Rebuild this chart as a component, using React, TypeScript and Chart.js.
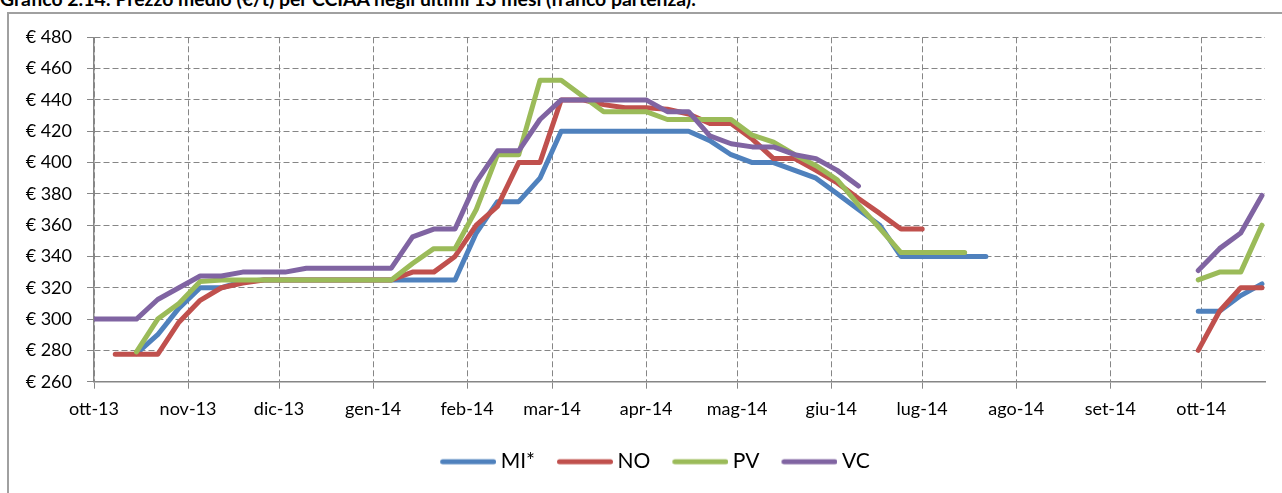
import React, { useEffect, useRef } from 'react';
import { Chart, registerables } from 'chart.js';

Chart.register(...registerables);

// ---- DATA ----
const titleText = 'Grafico 2.14: Prezzo medio (€/t) per CCIAA negli ultimi 13 mesi (franco partenza).';

const weekDates = [
  '2013-10-01', '2013-10-08', '2013-10-15', '2013-10-22', '2013-10-29',
  '2013-11-05', '2013-11-12', '2013-11-19', '2013-11-26',
  '2013-12-03', '2013-12-10', '2013-12-17', '2013-12-24', '2013-12-31',
  '2014-01-07', '2014-01-14', '2014-01-21', '2014-01-28',
  '2014-02-04', '2014-02-11', '2014-02-18', '2014-02-25',
  '2014-03-04', '2014-03-11', '2014-03-18', '2014-03-25',
  '2014-04-01', '2014-04-08', '2014-04-15', '2014-04-22', '2014-04-29',
  '2014-05-06', '2014-05-13', '2014-05-20', '2014-05-27',
  '2014-06-03', '2014-06-10', '2014-06-17', '2014-06-24',
  '2014-07-01', '2014-07-08', '2014-07-15', '2014-07-22', '2014-07-29',
  '2014-08-05', '2014-08-12', '2014-08-19', '2014-08-26',
  '2014-09-02', '2014-09-09', '2014-09-16', '2014-09-23', '2014-09-30',
  '2014-10-07', '2014-10-14', '2014-10-21',
];

const monthTickDates = [
  '2013-10-01', '2013-11-01', '2013-12-01', '2014-01-01', '2014-02-01', '2014-03-01',
  '2014-04-01', '2014-05-01', '2014-06-01', '2014-07-01', '2014-08-01', '2014-09-01', '2014-10-01',
];
const monthLabels = [
  'ott-13', 'nov-13', 'dic-13', 'gen-14', 'feb-14', 'mar-14',
  'apr-14', 'mag-14', 'giu-14', 'lug-14', 'ago-14', 'set-14', 'ott-14',
];
const xAxisStart = '2013-10-01';
const xAxisEnd = '2014-10-22';

const yTickValues = [260, 280, 300, 320, 340, 360, 380, 400, 420, 440, 460, 480];

const seriesNames = ['MI*', 'NO', 'PV', 'VC'];
const seriesColors = ['#4F81BD', '#C0504D', '#9BBB59', '#8064A2'];

const n = null;
const miValues = [
  n, n, 278, 290, 307,
  320, 320, 324, 325,
  325, 325, 325, 325, 325,
  325, 325, 325, 325,
  355, 375, 375, 390,
  420, 420, 420, 420,
  420, 420, 420, 414, 405,
  400, 400, 395, 390,
  380, 370, 360, 340,
  340, 340, 340, 340, n,
  n, n, n, n,
  n, n, n, n, 305,
  305, 315, 322.5,
];
const noValues = [
  n, 277.5, 277.5, 277.5, 298,
  312, 320, 323, 325,
  325, 325, 325, 325, 325,
  325, 330, 330, 340,
  360, 372, 400, 400,
  440, 440, 437, 435,
  435, 434, 431, 425, 425,
  415, 402.5, 402.5, 395,
  387, 377, 367.5, 357.5,
  357.5, n, n, n, n,
  n, n, n, n,
  n, n, n, n, 280,
  305, 320, 320,
];
const pvValues = [
  n, n, 279, 300, 310,
  324, 325, 325, 325,
  325, 325, 325, 325, 325,
  325, 335.5, 345, 345,
  370, 405, 405, 452.5,
  452.5, 442.5, 432.5, 432.5,
  432.5, 427.5, 427.5, 427.5, 427.5,
  417.5, 413, 405, 398,
  389, 373, 358, 342.5,
  342.5, 342.5, 342.5, n, n,
  n, n, n, n,
  n, n, n, n, 325,
  330, 330, 360,
];
const vcValues = [
  300, 300, 300, 312.5, 320,
  327.5, 327.5, 330, 330,
  330, 332.5, 332.5, 332.5, 332.5,
  332.5, 352.5, 357.5, 357.5,
  387.5, 407.5, 407.5, 427.5,
  440, 440, 440, 440,
  440, 432.5, 432.5, 417, 412,
  410, 410, 405, 402.5,
  395, 385, n, n,
  n, n, n, n, n,
  n, n, n, n,
  n, n, n, n, 331,
  345, 355, 379,
];
const seriesValues = [miValues, noValues, pvValues, vcValues];

// ---- helpers ----
const dayOf = (s: string) => {
  const [y, m, d] = s.split('-').map(Number);
  const [y0, m0, d0] = xAxisStart.split('-').map(Number);
  return Math.round((Date.UTC(y, m - 1, d) - Date.UTC(y0, m0 - 1, d0)) / 86400000);
};

const LINE_W = 5;

function makeLegendLine(color: string) {
  const c = document.createElement('canvas');
  c.width = 62;
  c.height = 8;
  const g = c.getContext('2d')!;
  g.strokeStyle = color;
  g.lineWidth = LINE_W;
  g.lineCap = 'round';
  g.beginPath();
  g.moveTo(8.5, 4);
  g.lineTo(59.5, 4);
  g.stroke();
  return c;
}

const FONT = 'Lato, "Open Sans", sans-serif';

// shifts the legend box so it is centred like the original chart's legend
const legendShift = {
  id: 'legendShift',
  afterLayout(chart: any) {
    const lg = chart.legend;
    if (lg) {
      lg.left = 45;
    }
  },
};

export default function App() {
  const canvasRef = useRef<HTMLCanvasElement | null>(null);

  useEffect(() => {
    const canvas = canvasRef.current;
    if (!canvas) return;
    const monthDays = monthTickDates.map(dayOf);
    const xs = weekDates.map(dayOf);

    const datasets = seriesNames.map((name, si) => ({
      label: name,
      data: xs.map((x, i) => ({ x, y: seriesValues[si][i] as number | null })),
      borderColor: seriesColors[si],
      backgroundColor: seriesColors[si],
      borderWidth: LINE_W,
      borderCapStyle: 'round' as const,
      borderJoinStyle: 'round' as const,
      pointRadius: 0,
      pointHoverRadius: 0,
      pointStyle: makeLegendLine(seriesColors[si]) as any,
      tension: 0,
      spanGaps: false,
      fill: false,
      order: seriesNames.length - si,
    }));

    const gridColor = '#868686';

    const chart = new Chart(canvas, {
      type: 'line',
      data: { datasets: datasets as any },
      plugins: [legendShift],
      options: {
        animation: false,
        responsive: false,
        maintainAspectRatio: false,
        events: [],
        parsing: false as any,
        layout: { padding: { left: 0, right: 17, top: 37.3, bottom: 10.8 } },
        scales: {
          x: {
            type: 'linear',
            min: dayOf(xAxisStart),
            max: dayOf(xAxisEnd),
            afterBuildTicks: (s: any) => {
              s.ticks = monthDays.map((v) => ({ value: v }));
            },
            afterFit: (s: any) => {
              s.height = 47.5;
            },
            ticks: {
              autoSkip: false,
              maxRotation: 0,
              padding: 9.5,
              color: '#000',
              font: { family: FONT, size: 18 },
              callback: (v: any) => {
                const idx = monthDays.indexOf(Number(v));
                return idx >= 0 ? monthLabels[idx] : '';
              },
            },
            grid: {
              color: gridColor,
              lineWidth: 1,
              tickLength: 7,
              tickColor: gridColor,
              tickWidth: 1,
              tickBorderDash: [],
            },
            border: { display: true, color: gridColor, width: 1.5, dash: [6, 3] },
          },
          y: {
            type: 'linear',
            min: 260,
            max: 480,
            afterBuildTicks: (s: any) => {
              s.ticks = yTickValues.map((v) => ({ value: v }));
            },
            afterFit: (s: any) => {
              s.width = 94;
            },
            ticks: {
              padding: 15,
              color: '#000',
              font: { family: FONT, size: 18 },
              callback: (v: any) => '€ ' + v,
            },
            grid: {
              color: gridColor,
              lineWidth: 1,
              tickLength: 7,
              tickColor: gridColor,
              tickWidth: 1,
              tickBorderDash: [],
            },
            border: { display: true, color: gridColor, width: 1.5, dash: [6, 3] },
          },
        },
        plugins: {
          title: { display: false },
          tooltip: { enabled: false },
          legend: {
            display: true,
            position: 'bottom',
            labels: {
              usePointStyle: true,
              pointStyleWidth: 50,
              padding: 22,
              color: '#000',
              font: { family: FONT, size: 21 },
              sort: (a: any, b: any) => a.datasetIndex - b.datasetIndex,
            },
          },
        },
      },
    });

    return () => {
      chart.destroy();
    };
  }, []);

  return (
    <div
      style={{
        position: 'fixed',
        left: 0,
        top: 0,
        width: 1282,
        height: 493,
        overflow: 'hidden',
        background: '#fff',
      }}
    >
      <div
        style={{
          position: 'absolute',
          left: 0,
          top: -10.7,
          fontFamily: FONT,
          fontWeight: 700,
          fontSize: 19.4,
          lineHeight: '19.4px',
          whiteSpace: 'nowrap',
          color: '#000',
        }}
      >
        {titleText}
      </div>
      <div
        style={{
          position: 'absolute',
          left: 7,
          top: 12,
          width: 1400,
          height: 600,
          border: '2px solid #a0a0a0',
          boxSizing: 'border-box',
        }}
      />
      <canvas
        ref={canvasRef}
        width={1282}
        height={493}
        style={{ position: 'absolute', left: 0, top: 0, width: 1282, height: 493 }}
      />
    </div>
  );
}
